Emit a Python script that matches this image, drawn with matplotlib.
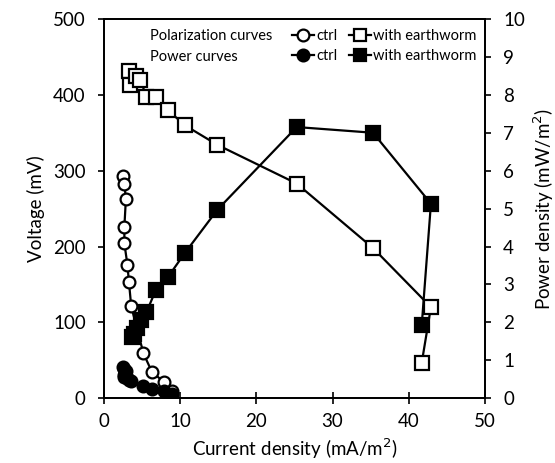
import matplotlib
matplotlib.use("Agg")
import matplotlib.pyplot as plt
from matplotlib.lines import Line2D

plt.rcParams['font.family'] = ['Lato', 'DejaVu Sans']

# Data
I_ctrl = [2.5, 2.7, 2.9, 2.7, 2.7, 3.1, 3.3, 3.6, 5.2, 6.3, 7.9, 8.9]
V_ctrl = [293, 282, 263, 226, 204, 176, 153, 121, 59, 35, 21, 10]
P_ctrl = [0.82, 0.76, 0.72, 0.62, 0.55, 0.52, 0.48, 0.44, 0.33, 0.25, 0.18, 0.10]

I_ew = [3.3, 3.5, 4.2, 4.8, 5.6, 6.9, 8.4, 10.6, 14.9, 25.3, 35.3, 42.9, 41.7]
V_ew = [432, 413, 425, 420, 397, 397, 380, 360, 334, 283, 198, 120, 47]
I_ew_p = [3.7, 4.0, 4.4, 4.9, 5.6, 6.8, 8.4, 10.6, 14.9, 25.3, 35.3, 42.9, 41.7]
P_ew = [1.62, 1.70, 1.85, 2.05, 2.27, 2.84, 3.19, 3.82, 4.97, 7.15, 7.0, 5.13, 1.94]

x_ticks = [0, 10, 20, 30, 40, 50]
y_ticks = [0, 100, 200, 300, 400, 500]
y2_ticks = list(range(0, 11))

fig = plt.figure(figsize=(5.55, 4.63), dpi=100)
ax = fig.add_axes([0.187, 0.140, 0.687, 0.819])
ax2 = ax.twinx()

lw = 1.6
mew = 1.6
sq = 10.5
ci = 8.5

ax.plot(I_ctrl, V_ctrl, color='black', lw=lw, marker='o', ms=ci, mfc='white', mec='black', mew=mew, zorder=3)
ax.plot(I_ew, V_ew, color='black', lw=lw, marker='s', ms=sq, mfc='white', mec='black', mew=mew, zorder=3)
ax2.plot(I_ctrl, P_ctrl, color='black', lw=lw, marker='o', ms=ci, mfc='black', mec='black', mew=mew, zorder=3)
ax2.plot(I_ew_p, P_ew, color='black', lw=lw, marker='s', ms=sq, mfc='black', mec='black', mew=mew, zorder=3)

ax.set_xlim(0, 50)
ax.set_ylim(0, 500)
ax2.set_ylim(0, 10)
ax.set_xticks(x_ticks)
ax.set_yticks(y_ticks)
ax2.set_yticks(y2_ticks)

fs = 13.5
for a in (ax, ax2):
    a.tick_params(direction='out', length=4, width=1.2, labelsize=fs, colors='black', pad=9)
    for s in a.spines.values():
        s.set_linewidth(1.3)
ax.tick_params(axis='x', direction='inout', length=8, pad=7)

ax.set_xlabel('Current density (mA/m$^2$)', fontsize=fs, labelpad=4)
ax.set_ylabel('Voltage (mV)', fontsize=fs, labelpad=6)
ax2.set_ylabel('Power density (mW/m$^2$)', fontsize=fs, labelpad=5)

# Legend
ax.text(0.12, 0.956, 'Polarization curves', transform=ax.transAxes, fontsize=10.5, va='center', ha='left')
ax.text(0.12, 0.900, 'Power curves', transform=ax.transAxes, fontsize=10.5, va='center', ha='left')
handles = [
    Line2D([], [], color='black', lw=lw, marker='o', ms=ci, mfc='white', mec='black', mew=mew),
    Line2D([], [], color='black', lw=lw, marker='o', ms=ci, mfc='black', mec='black', mew=mew),
    Line2D([], [], color='black', lw=lw, marker='s', ms=sq * 0.85, mfc='white', mec='black', mew=mew),
    Line2D([], [], color='black', lw=lw, marker='s', ms=sq * 0.85, mfc='black', mec='black', mew=mew),
]
labels = ['ctrl', 'ctrl', 'with earthworm', 'with earthworm']
leg = ax.legend(handles, labels, ncol=2, frameon=False, fontsize=10.5, loc='upper right',
                bbox_to_anchor=(1.0, 0.997), handlelength=1.5, handletextpad=0.15,
                columnspacing=0.8, labelspacing=0.4, borderaxespad=0.2)
leg.set_zorder(5)

fig.savefig('out.png', dpi=100)
